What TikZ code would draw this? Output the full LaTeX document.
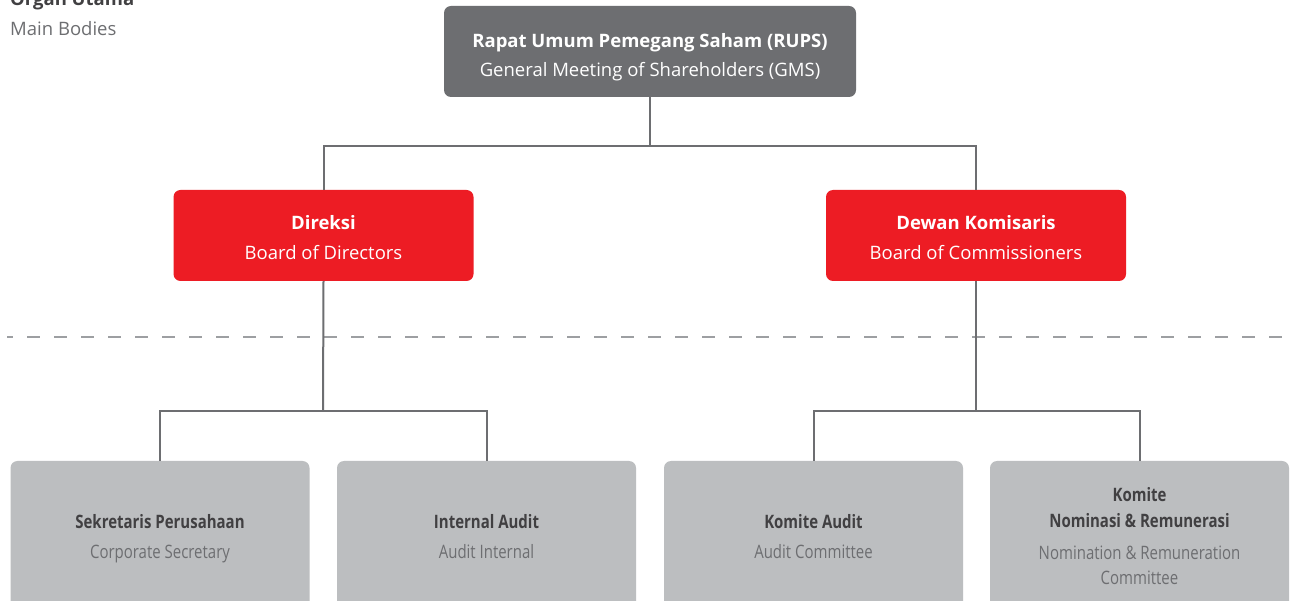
\documentclass[tikz,border=0pt]{standalone}
\usepackage{fontspec}
\setmainfont{Open Sans}
\newfontfamily\narrowsans[FakeStretch=0.81]{Open Sans}
\definecolor{top color}{HTML}{6D6E71}
\definecolor{main color}{HTML}{ED1C24}
\definecolor{support color}{HTML}{BCBEC0}
\definecolor{title color}{HTML}{414042}
\definecolor{caption color}{HTML}{6D6E71}
\definecolor{link color}{HTML}{6D6E71}
\definecolor{divider color}{HTML}{9D9FA2}
\tikzset{
    x={1pt},
    y={-1pt},
    organ box/.style={
        fill={#1},
        draw=none,
        rounded corners={7pt},
        minimum width={300},
        minimum height={91},
        align=center,
        inner sep=0pt,
        text depth={0pt},
        font={\fontsize{18.5}{29.5}\selectfont},
    },
    top organ/.style={
        organ box={top color},
        minimum width={412},
        text height={51pt},
        text=white,
    },
    main organ/.style={
        organ box={main color},
        text height={47.6pt},
        text=white,
    },
    support organ/.style={
        organ box={support color},
        minimum width={299},
        minimum height={150},
        text height={#1},
        text={caption color},
        font={\narrowsans\fontsize{18.5}{30}\selectfont},
    },
    support organ/.default={44.6pt},
    link/.style={
        draw={link color},
        line width={2pt},
    },
    divider/.style={
        draw={divider color},
        line width={2pt},
        dash pattern=on 13pt off 14pt,
        dash phase=7pt,
    },
    heading/.style={
        anchor=base west,
        inner sep=0pt,
        font={\fontsize{18.5}{29.5}\selectfont},
        text={caption color},
    },
}

\begin{document}
\begin{tikzpicture}
\useasboundingbox[fill=white] (0,0) rectangle (1291,601);
\clip (0,0) rectangle (1291,601);
% legend
\node[heading, font={\fontsize{18.5}{29.5}\selectfont\bfseries}, text={title color}] (organ title) at (10,6) {Organ Utama};
\node[heading] (organ caption) at (10,36) {Main Bodies};
% divider
\coordinate (divider start) at (7,337.5);
\coordinate (divider end) at (1291,337.5);
\draw[divider] (divider start) -- (divider end);
% organs
\node[top organ] (rups) at (650,51.5) {\textbf{Rapat Umum Pemegang Saham (RUPS)}\\General Meeting of Shareholders (GMS)};
\node[main organ] (direksi) at (323.5,235.5) {\textbf{Direksi}\\Board of Directors};
\node[main organ] (dekom) at (976,235.5) {\textbf{Dewan Komisaris}\\Board of Commissioners};
\node[support organ] (sekper) at (160,536) {{\color{title color}\textbf{Sekretaris Perusahaan}}\\Corporate Secretary};
\node[support organ] (audit internal) at (486.5,536) {{\color{title color}\textbf{Internal Audit}}\\Audit Internal};
\node[support organ] (komite audit) at (813.5,536) {{\color{title color}\textbf{Komite Audit}}\\Audit Committee};
\node[support organ={96pt}] (komite nr) at (1139.5,536) {{\color{title color}\textbf{Komite}}\\[-4.5pt]{\color{title color}\textbf{Nominasi \& Remunerasi}}\\[2.5pt]Nomination \& Remuneration\\[-5.5pt]Committee};
% links
\coordinate (rups bus) at (650,146);
\coordinate (direksi bus) at (323,411);
\coordinate (dekom bus) at (976,411);
\draw[link] (rups.south) -- (rups bus);
\draw[link] (direksi.north) |- (rups bus) -| (dekom.north);
\draw[link] (direksi.south) -- (direksi bus);
\draw[link] (sekper.north) |- (direksi bus) -| (audit internal.north);
\draw[link] (dekom.south) -- (dekom bus);
\draw[link] (komite audit.north) |- (dekom bus) -| (komite nr.north);
\end{tikzpicture}
\end{document}
